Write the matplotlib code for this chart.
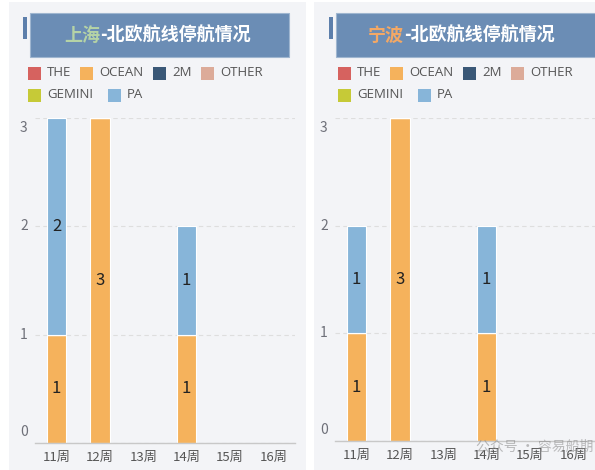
import numpy as np
import matplotlib
matplotlib.use("Agg")
import matplotlib.pyplot as plt
from matplotlib.patches import Rectangle

plt.rcParams['font.family'] = ['Noto Sans CJK SC', 'DejaVu Sans']

# dados
weeks = ['11周', '12周', '13周', '14周', '15周', '16周']
alliances = ['THE', 'OCEAN', '2M', 'OTHER', 'GEMINI', 'PA']
colors = ['#d6625f', '#f5b25c', '#3a5877', '#dcab99', '#c6ca37', '#87b5d9']
y_ticks = [0, 1, 2, 3]

sh_the = [0, 0, 0, 0, 0, 0]
sh_ocean = [1, 3, 0, 1, 0, 0]
sh_2m = [0, 0, 0, 0, 0, 0]
sh_other = [0, 0, 0, 0, 0, 0]
sh_gemini = [0, 0, 0, 0, 0, 0]
sh_pa = [2, 0, 0, 1, 0, 0]

nb_the = [0, 0, 0, 0, 0, 0]
nb_ocean = [1, 3, 0, 1, 0, 0]
nb_2m = [0, 0, 0, 0, 0, 0]
nb_other = [0, 0, 0, 0, 0, 0]
nb_gemini = [0, 0, 0, 0, 0, 0]
nb_pa = [1, 0, 0, 1, 0, 0]

panels = [
    ('上海', '#b5d3a6', [sh_the, sh_ocean, sh_2m, sh_other, sh_gemini, sh_pa]),
    ('宁波', '#f3a865', [nb_the, nb_ocean, nb_2m, nb_other, nb_gemini, nb_pa]),
]

W, H = 595, 470
fig = plt.figure(figsize=(W / 100, H / 100), dpi=100)
fig.patch.set_facecolor('white')

def px(x, y):
    return x / W, 1 - y / H

# posições (pixels) de cada painel
panel_x = [9, 314]
panel_w = [297, 281]
axes_x = [35, 335]
title_box = [(30, 289), (336, 596)]
title_split = [100, 404]

for i, (city, city_color, data) in enumerate(panels):
    dx = panel_x[i] - panel_x[0]
    # fundo do painel
    fig.patches.append(Rectangle((panel_x[i] / W, 0), panel_w[i] / W, 1 - 2 / H,
                                 transform=fig.transFigure, facecolor='#f3f4f7',
                                 edgecolor='none', zorder=-5))
    # caixa do título
    x0, x1 = title_box[i]
    fig.patches.append(Rectangle(px(x0, 57), (x1 - x0) / W, 44 / H,
                                 transform=fig.transFigure, facecolor='#6b8db5',
                                 edgecolor='#9fb6d0', linewidth=0.8, zorder=1))
    mx = x0 - 7
    fig.patches.append(Rectangle(px(mx, 39), 4 / W, 22 / H,
                                 transform=fig.transFigure, facecolor='#5d7fab',
                                 edgecolor='none', zorder=1))
    sx, sy = px(title_split[i], 35)
    fig.text(sx, sy, city, ha='right', va='center', fontsize=13,
             fontweight='bold', color=city_color, zorder=3)
    fig.text(sx, sy, '-北欧航线停航情况', ha='left', va='center', fontsize=13,
             fontweight='bold', color='white', zorder=3)

    # legenda
    leg_pos = [(28, 73), (80, 73), (153, 73), (201, 73), (28, 95), (108, 95)]
    for name, c, (lx, ly) in zip(alliances, colors, leg_pos):
        lx = lx + dx + (5 if i == 1 else 0)
        fig.patches.append(Rectangle(px(lx, ly + 6.5), 13 / W, 13 / H,
                                     transform=fig.transFigure, facecolor=c,
                                     edgecolor='none', zorder=2))
        tx, ty = px(lx + 19, ly)
        fig.text(tx, ty, name, ha='left', va='center', fontsize=9.5,
                 color='#555555', family=['Open Sans', 'DejaVu Sans'])

    # eixos
    ax_l, ax_r = axes_x[i], axes_x[i] + 260
    ax_top, ax_bot = 118, (443 if i == 0 else 441)
    ax = fig.add_axes([ax_l / W, 1 - ax_bot / H, (ax_r - ax_l) / W, (ax_bot - ax_top) / H])
    ax.set_zorder(2)
    ax.set_facecolor('none')
    xs = np.arange(len(weeks))
    bottom = np.zeros(len(weeks))
    for name, c, vals in zip(alliances, colors, data):
        vals = np.array(vals, dtype=float)
        bars = ax.bar(xs, vals, 0.44, bottom=bottom, color=c, edgecolor='white',
                      linewidth=0.8, zorder=3)
        for b, v, bt in zip(bars, vals, bottom):
            if v > 0:
                ax.text(b.get_x() + b.get_width() / 2, bt + v / 2, f'{int(v)}',
                        ha='center', va='center', fontsize=12, color='#222222', zorder=4)
        bottom += vals

    ax.set_xlim(-0.5, 5.5)
    ax.set_ylim(y_ticks[0], y_ticks[-1])
    ax.set_yticks(y_ticks)
    ax.set_yticklabels([])
    ax.set_xticks(xs)
    ax.set_xticklabels(weeks)
    ax.tick_params(axis='both', length=0)
    ax.tick_params(axis='x', pad=6, labelsize=9.5, labelcolor='#555555')
    # rótulos do eixo y (o primeiro e o último ficam para dentro)
    for k, t in enumerate(y_ticks):
        off = 0
        if k == 0:
            off = 11
        elif k == len(y_ticks) - 1:
            off = -10
        ax.annotate(str(t), xy=(0, t), xycoords=('axes fraction', 'data'),
                    xytext=(-8, off * 0.72), textcoords='offset points',
                    ha='center', va='center', fontsize=10, color='#6e7079')
    ax.grid(axis='y', linestyle=(0, (4, 3)), color='#dedede', linewidth=0.8, zorder=0)
    for s in ['top', 'right', 'left']:
        ax.spines[s].set_visible(False)
    ax.spines['bottom'].set_color('#c8c8c8')
    ax.spines['bottom'].set_linewidth(1)
    ax.spines['bottom'].set_zorder(5)

# marca d'água
wx, wy = px(476, 447)
fig.text(wx, wy, '公众号 · 容易船期', ha='left', va='center', fontsize=10,
         color='#888888', alpha=0.55, zorder=6)

fig.savefig('out.png', dpi=100, facecolor=fig.get_facecolor())
